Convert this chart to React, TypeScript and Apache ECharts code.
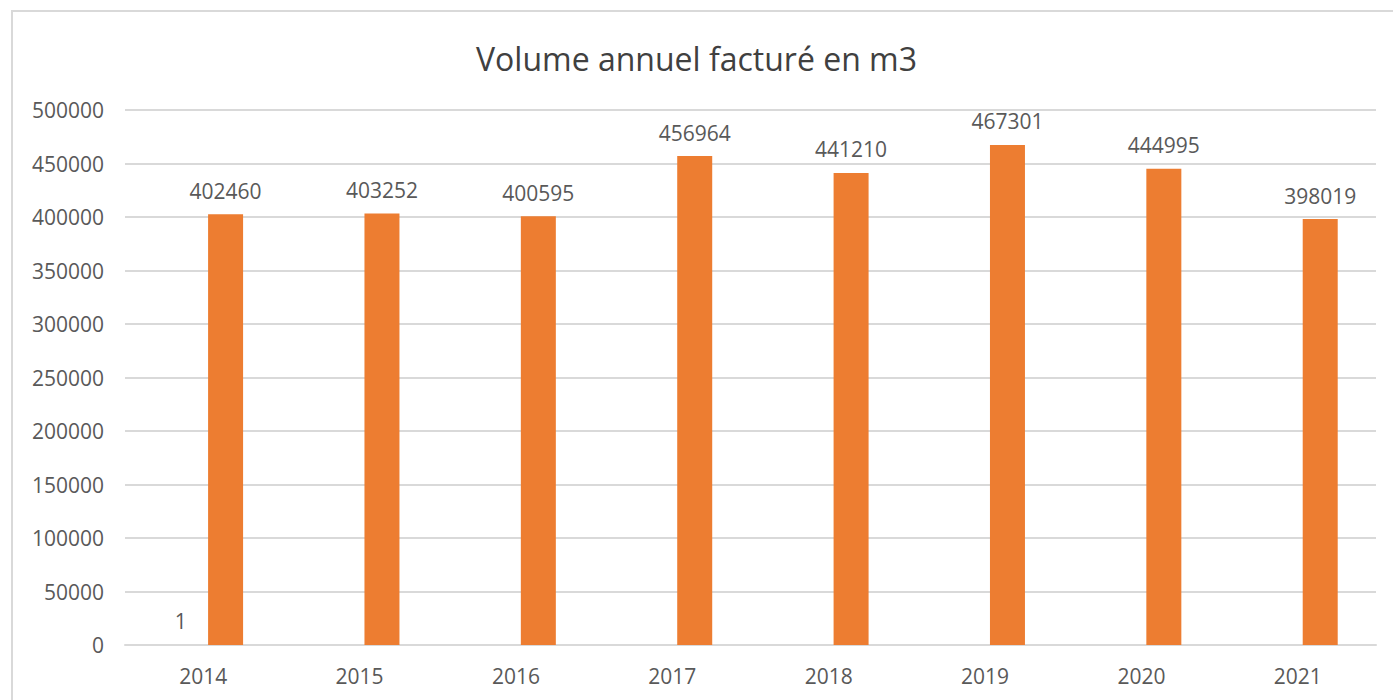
import React, { useEffect, useRef } from "react";
import * as echarts from "echarts";

const categories = ["2014", "2015", "2016", "2017", "2018", "2019", "2020", "2021"];
const series1Values: (number | null)[] = [1, null, null, null, null, null, null, null];
const volumeValues = [402460, 403252, 400595, 456964, 441210, 467301, 444995, 398019];
const titleText = "Volume annuel facturé en m3";

const FONT = "'Open Sans', 'Noto Sans', sans-serif";
const TEXT = "#595959";
const GRID = "#D9D9D9";
const FS = 21;

export default function App() {
  const ref = useRef<HTMLDivElement>(null);
  useEffect(() => {
    if (!ref.current) return;
    const chart = echarts.init(ref.current, null, { renderer: "svg" });
    chart.setOption({
      animation: false,
      backgroundColor: "#ffffff",
      title: {
        text: titleText,
        left: "center",
        top: 37,
        textStyle: { fontFamily: FONT, fontSize: 32, fontWeight: "normal", color: "#404040" },
      },
      graphic: [
        {
          type: "rect",
          shape: { x: 12, y: 11, width: 1400, height: 720 },
          style: { fill: "none", stroke: GRID, lineWidth: 2 },
          silent: true,
        },
      ],
      grid: { left: 125, right: 17, top: 110, bottom: 55 },
      xAxis: {
        type: "category",
        data: categories,
        axisTick: { show: false },
        axisLine: { lineStyle: { color: GRID, width: 2 } },
        axisLabel: { color: TEXT, fontFamily: FONT, fontSize: FS, margin: 20 },
      },
      yAxis: {
        type: "value",
        min: 0,
        max: 500000,
        interval: 50000,
        axisLine: { show: false },
        axisTick: { show: false },
        splitLine: { lineStyle: { color: GRID, width: 2 } },
        axisLabel: {
          color: TEXT,
          fontFamily: FONT,
          fontSize: FS,
          margin: 21,
          formatter: (v: number) => String(v),
        },
      },
      series: [
        {
          type: "bar",
          data: series1Values,
          barWidth: 35,
          barGap: "28%",
          itemStyle: { color: "#4472C4" },
          label: { show: true, position: "top", distance: 13, color: TEXT, fontFamily: FONT, fontSize: FS },
        },
        {
          type: "bar",
          data: volumeValues,
          barWidth: 35,
          barGap: "28%",
          itemStyle: { color: "#ED7D31" },
          label: { show: true, position: "top", distance: 13, color: TEXT, fontFamily: FONT, fontSize: FS },
        },
      ],
    });
    return () => chart.dispose();
  }, []);
  return (
    <div
      ref={ref}
      style={{ position: "absolute", left: 0, top: 0, width: 1393, height: 700 }}
    />
  );
}
